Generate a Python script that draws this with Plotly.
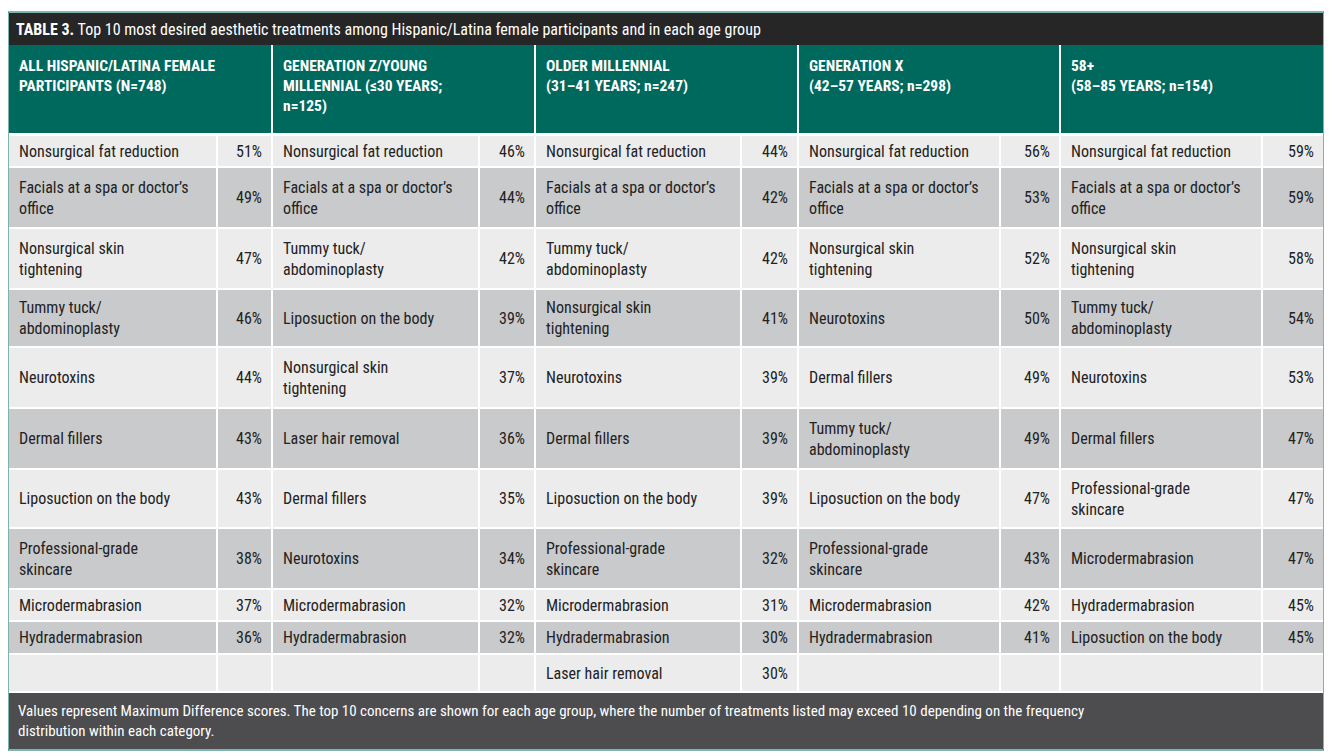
import plotly.graph_objects as go

# Data
title = "<b>TABLE 3.</b> Top 10 most desired aesthetic treatments among Hispanic/Latina female participants and in each age group"
headers = [
    "ALL HISPANIC/LATINA FEMALE<br>PARTICIPANTS (N=748)",
    "GENERATION Z/YOUNG<br>MILLENNIAL (≤30 YEARS;<br>n=125)",
    "OLDER MILLENNIAL<br>(31–41 YEARS; n=247)",
    "GENERATION X<br>(42–57 YEARS; n=298)",
    "58+<br>(58–85 YEARS; n=154)",
]
FACIALS = "Facials at a spa or doctor’s<br>office"
SKIN = "Nonsurgical skin<br>tightening"
TUMMY = "Tummy tuck/<br>abdominoplasty"
PROSK = "Professional-grade<br>skincare"
all_treat = ["Nonsurgical fat reduction", FACIALS, SKIN, TUMMY, "Neurotoxins", "Dermal fillers",
             "Liposuction on the body", PROSK, "Microdermabrasion", "Hydradermabrasion", ""]
all_pct = ["51%", "49%", "47%", "46%", "44%", "43%", "43%", "38%", "37%", "36%", ""]
genz_treat = ["Nonsurgical fat reduction", FACIALS, TUMMY, "Liposuction on the body", SKIN,
              "Laser hair removal", "Dermal fillers", "Neurotoxins", "Microdermabrasion", "Hydradermabrasion", ""]
genz_pct = ["46%", "44%", "42%", "39%", "37%", "36%", "35%", "34%", "32%", "32%", ""]
oldm_treat = ["Nonsurgical fat reduction", FACIALS, TUMMY, SKIN, "Neurotoxins", "Dermal fillers",
              "Liposuction on the body", PROSK, "Microdermabrasion", "Hydradermabrasion", "Laser hair removal"]
oldm_pct = ["44%", "42%", "42%", "41%", "39%", "39%", "39%", "32%", "31%", "30%", "30%"]
genx_treat = ["Nonsurgical fat reduction", FACIALS, SKIN, "Neurotoxins", "Dermal fillers", TUMMY,
              "Liposuction on the body", PROSK, "Microdermabrasion", "Hydradermabrasion", ""]
genx_pct = ["56%", "53%", "52%", "50%", "49%", "49%", "47%", "43%", "42%", "41%", ""]
old_treat = ["Nonsurgical fat reduction", FACIALS, SKIN, TUMMY, "Neurotoxins", "Dermal fillers",
             PROSK, "Microdermabrasion", "Hydradermabrasion", "Liposuction on the body", ""]
old_pct = ["59%", "59%", "58%", "54%", "53%", "47%", "47%", "47%", "45%", "45%", ""]
footnote = ("Values represent Maximum Difference scores. The top 10 concerns are shown for each age group, where the number of treatments listed may exceed 10 depending on the frequency<br>"
            "distribution within each category.")

columns = [(all_treat, all_pct), (genz_treat, genz_pct), (oldm_treat, oldm_pct),
           (genx_treat, genx_pct), (old_treat, old_pct)]

# Layout geometry (pixels)
col_x = [8, 272, 535, 798, 1060, 1324]
pct_x = [217, 479, 741, 1000, 1262]
row_y = [135, 167, 228, 289, 347, 408, 469, 528, 589, 621, 654, 692]
TEAL = "#00695e"
LIGHT = "#ececed"
GRAY = "#c9cacc"
FONT = "Roboto Condensed, Liberation Sans Narrow, Roboto, sans-serif"
OFF = 8  # page offset of the plot div

shapes, ann = [], []
def rect(x0, y0, x1, y1, color, line=None):
    shapes.append(dict(type="rect", x0=x0, y0=y0, x1=x1, y1=y1, fillcolor=color,
                       line=dict(color=line or color, width=1 if line else 0), layer="below"))

rect(8, 12, 1324, 750, "white", TEAL)
rect(9, 13, 1323, 45, "#262626")
ann.append(dict(x=14, y=29, text=title, xanchor="left", font=dict(color="white", size=16)))
rect(9, 45, 1323, 133, TEAL)
for i, h in enumerate(headers):
    if i > 0:
        shapes.append(dict(type="line", x0=col_x[i], x1=col_x[i], y0=45, y1=133, line=dict(color="white", width=2)))
    ann.append(dict(x=col_x[i] + 9, y=55, text="<b>" + h + "</b>", xanchor="left", yanchor="top",
                    font=dict(color="white", size=15.5), align="left"))

for r in range(11):
    y0, y1 = row_y[r] + 1, row_y[r + 1] - 1
    color = LIGHT if r % 2 == 0 else GRAY
    for c, (treat, pct) in enumerate(columns):
        rect(col_x[c] + 1, y0, pct_x[c] - 1, y1, color)
        rect(pct_x[c] + 1, y0, col_x[c + 1] - 1, y1, color)
        ym = (row_y[r] + row_y[r + 1]) / 2
        if treat[r]:
            ann.append(dict(x=col_x[c] + 9, y=ym, text=treat[r], xanchor="left", align="left",
                            font=dict(size=16, color="#222")))
        if pct[r]:
            ann.append(dict(x=col_x[c + 1] - 8, y=ym, text=pct[r], xanchor="right",
                            font=dict(size=16, color="#222")))

rect(9, 693, 1323, 749, "#4d4d4f")
ann.append(dict(x=16, y=721, text=footnote, xanchor="left", align="left", font=dict(color="white", size=15)))

for a in ann:
    a.update(showarrow=False, xref="x", yref="y")
    a.setdefault("yanchor", "middle")

fig = go.Figure()
fig.update_layout(
    width=1332, height=756, margin=dict(l=0, r=0, t=0, b=0),
    paper_bgcolor="white", plot_bgcolor="white",
    font=dict(family=FONT),
    xaxis=dict(range=[OFF, 1332 + OFF], visible=False, fixedrange=True),
    yaxis=dict(range=[756 + OFF, OFF], visible=False, fixedrange=True),
    shapes=shapes, annotations=ann, showlegend=False,
)
fig.write_html("out.html")
